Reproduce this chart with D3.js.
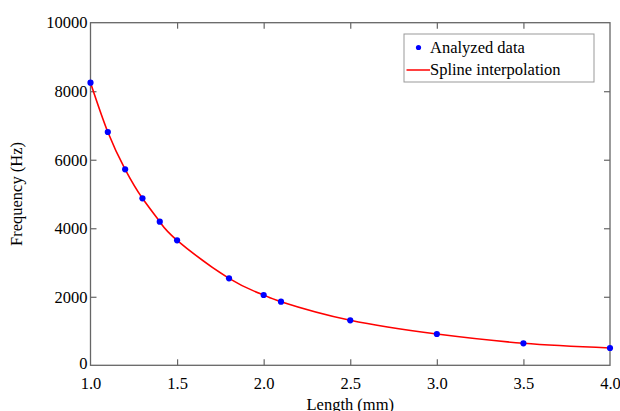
<!DOCTYPE html>
<html><head><meta charset="utf-8">
<script src="https://cdn.jsdelivr.net/npm/d3@7"></script>
<style>
body{margin:0;background:#fff;}
text{font-family:"Liberation Serif","Times New Roman",serif;fill:#000;}
</style></head>
<body><svg id="c" width="620" height="411"></svg>
<script>
const lengths = [1.0,1.1,1.2,1.3,1.4,1.5,1.8,2.0,2.1,2.5,3.0,3.5,4.0];
const frequencies = [8249,6810,5721,4874,4191,3649,2539,2052,1856,1313,914,642,505];
const xTicks = [1.0,1.5,2.0,2.5,3.0,3.5,4.0];
const yTicks = [0,2000,4000,6000,8000,10000];
const legendLabels = ["Analyzed data","Spline interpolation"];

const svg = d3.select("#c");
const L=90.5, R=610, T=22.7, B=365.3;
const x = d3.scaleLinear().domain([1,4]).range([L,R]);
const y = d3.scaleLinear().domain([0,10000]).range([B,T]);
const axisColor="#666";

const g = svg.append("g");
g.append("rect").attr("x",L).attr("y",T).attr("width",R-L).attr("height",B-T)
 .attr("fill","none").attr("stroke",axisColor).attr("stroke-width",1.3);

function styleAxis(sel){
  sel.select(".domain").remove();
  sel.selectAll(".tick line").attr("stroke",axisColor).attr("stroke-width",1.2);
  sel.selectAll(".tick text").attr("font-size","16.5px").attr("font-family","Liberation Serif");
}
const tl=6;
const xb = g.append("g").attr("transform",`translate(0,${B})`)
 .call(d3.axisBottom(x).tickValues(xTicks).tickFormat(d3.format(".1f")).tickSizeInner(-tl).tickSizeOuter(0).tickPadding(12));
styleAxis(xb);
const xt = g.append("g").attr("transform",`translate(0,${T})`)
 .call(d3.axisTop(x).tickValues(xTicks).tickFormat("").tickSizeInner(-tl).tickSizeOuter(0));
styleAxis(xt);
const yl = g.append("g").attr("transform",`translate(${L},0)`)
 .call(d3.axisLeft(y).tickValues(yTicks).tickFormat(d3.format("d")).tickSizeInner(-tl).tickSizeOuter(0).tickPadding(3));
styleAxis(yl);
const yr = g.append("g").attr("transform",`translate(${R},0)`)
 .call(d3.axisRight(y).tickValues(yTicks).tickFormat("").tickSizeInner(-tl).tickSizeOuter(0));
styleAxis(yr);
[xb,xt].forEach(a=>a.selectAll(".tick").filter(d=>d===1||d===4).select("line").remove());
[yl,yr].forEach(a=>a.selectAll(".tick").filter(d=>d===0||d===10000).select("line").remove());
yl.selectAll(".tick").filter(d=>d===0).select("text").attr("dy","0.2em");

const line = d3.line().x((d,i)=>x(lengths[i])).y(d=>y(d)).curve(d3.curveNatural);
g.append("path").datum(frequencies).attr("d",line).attr("fill","none")
 .attr("stroke","#ff0000").attr("stroke-width",1.6);
g.selectAll("circle.pt").data(frequencies).enter().append("circle")
 .attr("cx",(d,i)=>x(lengths[i])).attr("cy",d=>y(d)).attr("r",3.1).attr("fill","#0000ff");

svg.append("text").attr("x",(L+R)/2).attr("y",410).attr("text-anchor","middle")
 .attr("font-size","16.5px").text("Length (mm)");
svg.append("text").attr("transform",`translate(22,${(T+B)/2}) rotate(-90)`).attr("text-anchor","middle")
 .attr("font-size","16.5px").text("Frequency (Hz)");

const lg = svg.append("g");
lg.append("rect").attr("x",404).attr("y",34).attr("width",190).attr("height",48)
 .attr("fill","#fff").attr("stroke","#999").attr("stroke-width",1);
lg.append("circle").attr("cx",418.5).attr("cy",47.5).attr("r",2.6).attr("fill","#0000ff");
lg.append("line").attr("x1",406.5).attr("x2",430).attr("y1",70).attr("y2",70)
 .attr("stroke","#ff0000").attr("stroke-width",1.5);
lg.selectAll("text.lt").data(legendLabels).enter().append("text")
 .attr("x",430).attr("y",(d,i)=>53+i*22).attr("font-size","16.5px").text(d=>d);
</script></body></html>
